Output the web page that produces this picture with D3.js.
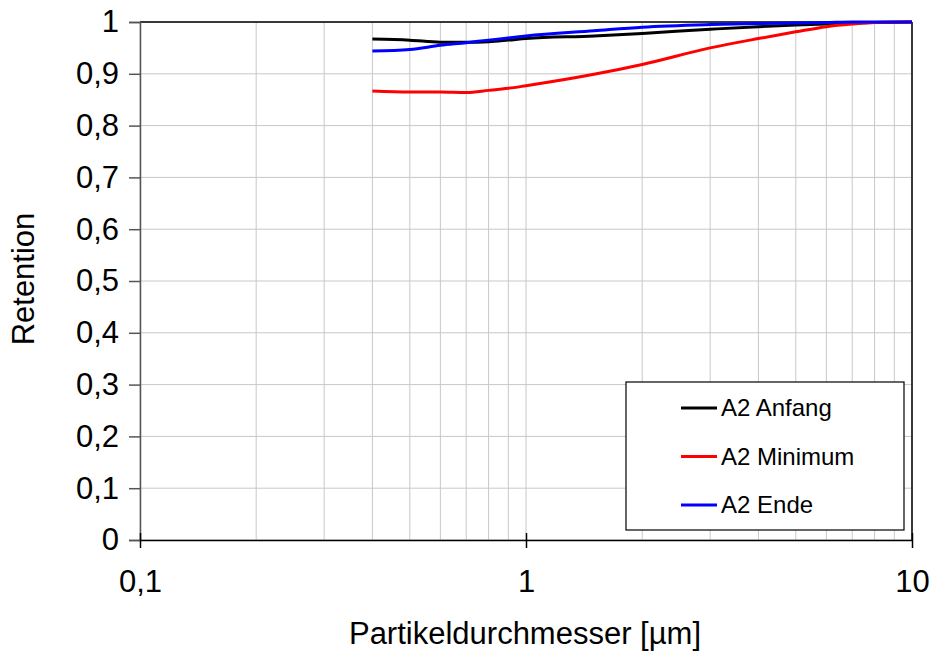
<!DOCTYPE html>
<html>
<head>
<meta charset="utf-8">
<script src="https://cdn.jsdelivr.net/npm/d3@7"></script>
<style>
  body { margin: 0; background: #fff; }
  svg { font-family: "Liberation Sans", Arial, sans-serif; }
</style>
</head>
<body>
<div id="board"></div>
<script>
// particle diameters [µm]
const diameters = [0.4, 0.5, 0.6, 0.7, 0.8, 0.9, 1, 1.5, 2, 3, 4, 5, 6, 7, 8, 10];
// retention per series
const anfang  = [0.967, 0.965, 0.961, 0.961, 0.962, 0.965, 0.968, 0.973, 0.978, 0.986, 0.991, 0.994, 0.996, 0.998, 0.999, 1.0];
const minimum = [0.867, 0.865, 0.865, 0.864, 0.868, 0.872, 0.877, 0.899, 0.918, 0.950, 0.968, 0.981, 0.991, 0.996, 0.999, 1.0];
const ende    = [0.944, 0.947, 0.955, 0.960, 0.965, 0.969, 0.973, 0.983, 0.990, 0.995, 0.997, 0.998, 0.999, 1.0, 1.0, 1.0];
const seriesNames = ["A2 Anfang", "A2 Minimum", "A2 Ende"];
const seriesColors = ["#000000", "#ff0000", "#0000ff"];
const yTicks = [0, 0.1, 0.2, 0.3, 0.4, 0.5, 0.6, 0.7, 0.8, 0.9, 1];
const xMajor = [0.1, 1, 10];

const width = 932, height = 652;
const marginTop = 22, marginRight = 20, marginBottom = 112, marginLeft = 140;
const FONT = "'Liberation Sans', Arial, sans-serif";

const x = d3.scaleLog()
    .domain([0.1, 10])
    .range([marginLeft, width - marginRight]);

const y = d3.scaleLinear()
    .domain([0, 1])
    .range([height - marginBottom, marginTop]);

const svg = d3.select("#board").append("svg")
    .attr("width", width)
    .attr("height", height);

const fmt = d => String(d).replace(".", ",");

// grid lines
const xMinor = d3.range(-1, 1).flatMap(p => d3.range(1, 10).map(k => k * Math.pow(10, p)));
svg.append("g")
    .selectAll("line")
    .data(xMinor.concat([10]))
    .enter().append("line")
    .attr("x1", d => x(d)).attr("x2", d => x(d))
    .attr("y1", y(0)).attr("y2", y(1))
    .attr("stroke", "#c8c8c8").attr("stroke-width", 1);

svg.append("g")
    .selectAll("line")
    .data(yTicks)
    .enter().append("line")
    .attr("x1", x(0.1)).attr("x2", x(10))
    .attr("y1", d => y(d)).attr("y2", d => y(d))
    .attr("stroke", "#c8c8c8").attr("stroke-width", 1);

// frame top & right
svg.append("line")
    .attr("x1", x(0.1)).attr("x2", x(10))
    .attr("y1", y(1)).attr("y2", y(1))
    .attr("stroke", "#000").attr("stroke-width", 1.5);
svg.append("line")
    .attr("x1", x(10)).attr("x2", x(10))
    .attr("y1", y(1)).attr("y2", y(0))
    .attr("stroke", "#000").attr("stroke-width", 1.5);

// y-axis
const yAxis = svg.append("g")
    .attr("transform", `translate(${marginLeft},0)`)
    .call(d3.axisLeft(y).tickValues(yTicks).tickFormat(fmt).tickSize(11).tickPadding(10));
yAxis.select(".domain").attr("stroke", "#555").attr("stroke-width", 1.5);
yAxis.selectAll(".tick line").attr("stroke", "#555").attr("stroke-width", 1.5);
yAxis.selectAll("text").style("font-size", "31px").attr("fill", "#000")
    .style("font-family", FONT);

// x-axis
const xAxis = svg.append("g")
    .attr("transform", `translate(0,${height - marginBottom})`)
    .call(d3.axisBottom(x).tickValues(xMajor).tickFormat(fmt).tickSizeOuter(0).tickSizeInner(8).tickPadding(22));
xAxis.select(".domain").attr("stroke", "#000").attr("stroke-width", 1.5);
xAxis.selectAll(".tick line").attr("stroke", "#000").attr("stroke-width", 1.5).attr("y1", -7);
xAxis.selectAll("text").style("font-size", "31px").attr("fill", "#000")
    .style("font-family", FONT);

// axis titles
svg.append("text")
    .attr("x", 525)
    .attr("y", 644)
    .attr("text-anchor", "middle")
    .style("font-size", "31px")
    .text("Partikeldurchmesser [µm]");

svg.append("text")
    .attr("transform", `translate(34,${(y(0) + y(1)) / 2 - 2}) rotate(-90)`)
    .attr("text-anchor", "middle")
    .style("font-size", "31px")
    .text("Retention");

// series lines
const allSeries = [anfang, minimum, ende];
const line = d3.line()
    .x((d, i) => x(diameters[i]))
    .y(d => y(d))
    .curve(d3.curveMonotoneX);

svg.append("g")
    .selectAll("path")
    .data(allSeries)
    .enter().append("path")
    .attr("d", d => line(d))
    .attr("fill", "none")
    .attr("stroke", (d, i) => seriesColors[i])
    .attr("stroke-width", 3);

// legend
const legend = svg.append("g");
legend.append("rect")
    .attr("x", 626).attr("y", 382)
    .attr("width", 278).attr("height", 148)
    .attr("fill", "#fff")
    .attr("stroke", "#000").attr("stroke-width", 1.2);

const items = legend.selectAll("g.item")
    .data(seriesNames)
    .enter().append("g")
    .attr("transform", (d, i) => `translate(0,${408 + i * 48.5})`);
items.append("line")
    .attr("x1", 681).attr("x2", 717)
    .attr("stroke", (d, i) => seriesColors[i])
    .attr("stroke-width", 3);
items.append("text")
    .attr("x", 721).attr("y", 8)
    .style("font-size", "24px")
    .text(d => d);
</script>
</body>
</html>
